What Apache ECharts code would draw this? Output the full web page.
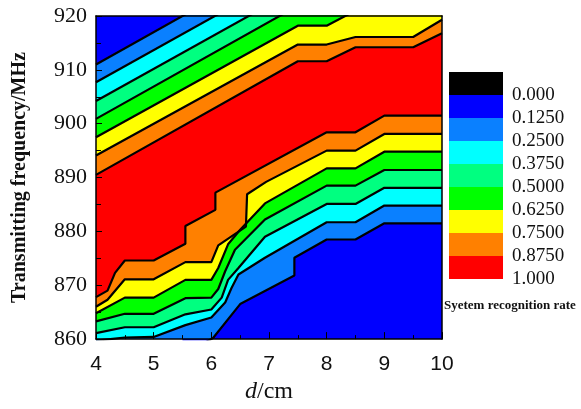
<!DOCTYPE html>
<html>
<head>
<meta charset="utf-8">
<script src="https://cdn.jsdelivr.net/npm/echarts@6/dist/echarts.min.js"></script>
<style>
html, body { margin: 0; padding: 0; background: #fff; }
#main { width: 581px; height: 409px; }
</style>
</head>
<body>
<div id="main"></div>
<script>
// contour boundaries, [d (cm), frequency (MHz)]
// upper family: from the top-left corner down to the red plateau
var u1 = [[4, 911.0], [10, 947.0]];
var u2 = [[4, 907.7], [10, 943.5]];
var u3 = [[4, 904.2], [10, 940.0]];
var u4 = [[4, 900.9], [7.5, 921.9], [8, 921.9], [8.5, 924.0], [10, 924.0]];
var u5 = [[4, 897.5], [7.5, 918.2], [8, 918.2], [8.5, 921.0], [10, 921.0]];
var u6 = [[4, 894.1], [7.5, 914.7], [8, 914.7], [8.5, 916.1], [9.5, 916.1], [10, 919.3]];
var u7 = [[4, 890.5], [7.5, 911.6], [8, 911.6], [8.5, 914.2], [9.5, 914.2], [10, 916.8]];
// lower family: from the red plateau down to the bottom-right corner
var l7 = [[4, 867.8], [4.2, 869.0], [4.33, 872.3], [4.5, 874.6], [5, 874.6], [5.55, 877.7], [5.55, 881.0],
          [6.07, 884.0], [6.07, 887.2], [8, 898.4], [8.5, 898.4], [9, 901.5], [10, 901.5]];
var l6 = [[4, 866.0], [4.2, 867.3], [4.5, 871.1], [5, 871.1], [5.55, 874.3], [6, 874.3], [6.12, 877.4],
          [6.6, 880.9], [6.62, 886.9], [6.95, 889.2], [8, 895.0], [8.5, 895.0], [9, 898.1], [10, 898.1]];
var l5 = [[4, 864.8], [4.5, 867.7], [5, 867.7], [5.55, 871.0], [6, 871.0], [6.12, 873.2], [6.29, 877.6],
          [6.5, 880.3], [6.93, 885.2], [8, 891.7], [8.5, 891.7], [9, 894.8], [10, 894.8]];
var l4 = [[4, 863.3], [4.5, 864.7], [5, 864.7], [5.55, 867.6], [6, 867.7], [6.12, 869.3], [6.24, 872.6],
          [6.41, 876.6], [6.93, 882.2], [8, 888.5], [8.5, 888.5], [9, 891.4], [10, 891.4]];
var l3 = [[4, 861.1], [4.5, 862.2], [5, 862.2], [5.55, 864.6], [6, 865.5], [6.18, 867.7], [6.29, 871.0],
          [6.47, 873.2], [6.93, 879.0], [8, 885.1], [8.5, 885.1], [9, 888.1], [10, 888.1]];
var l2 = [[4, 859.7], [4.5, 860.3], [5, 860.4], [5.55, 862.6], [6, 864.0], [6.24, 866.8], [6.35, 869.5],
          [6.47, 872.0], [6.93, 875.1], [8, 881.7], [8.5, 881.7], [9, 884.8], [10, 884.8]];
var l1 = [[5.5, 857.0], [6.03, 860.2], [6.5, 866.5], [7.44, 871.8], [7.44, 875.1], [8, 878.5],
          [8.5, 878.5], [9, 881.5], [10, 881.5]];

var levelLabels = ['0.000', '0.1250', '0.2500', '0.3750', '0.5000', '0.6250', '0.7500', '0.8750', '1.000'];
var xTicks = [4, 10, 1];
var yTicks = [860, 920, 10];

var colors = ['#000000', '#0000ff', '#0a80ff', '#00ffff', '#00ff80', '#00ff00', '#ffff00', '#ff8000', '#ff0000'];

// each boundary fills downward with the colour of the band beneath it
var layers = [
    [u1, 2], [u2, 3], [u3, 4], [u4, 5], [u5, 6], [u6, 7], [u7, 8],
    [l7, 7], [l6, 6], [l5, 5], [l4, 4], [l3, 3], [l2, 2], [l1, 1]
];

var series = layers.map(function (ly) {
    return {
        type: 'line',
        data: ly[0],
        symbol: 'none',
        clip: true,
        silent: true,
        lineStyle: { color: '#000', width: 2.2 },
        areaStyle: { color: colors[ly[1]], opacity: 1, origin: 'start' }
    };
});

var serif = 'Liberation Serif';

// colour key: one piecewise map for the boxes, a second one, shifted half a box,
// carries the level values so that they sit on the box edges
var keyBoxes = {
    type: 'piecewise', seriesIndex: [], orient: 'vertical', inverse: true, align: 'left',
    left: 449, top: 72, padding: 0,
    itemWidth: 54, itemHeight: 23, itemGap: 0, textGap: 9,
    itemSymbol: 'rect', selectedMode: false, showLabel: false,
    pieces: levelLabels.map(function (t, i) {
        return { min: i, max: i + 1, label: ' ', color: colors[i] };
    })
};
var keyLabels = {
    type: 'piecewise', seriesIndex: [], orient: 'vertical', inverse: true, align: 'left',
    left: 449, top: 83.5, padding: 0,
    itemWidth: 54, itemHeight: 23, itemGap: 0, textGap: 9,
    itemSymbol: 'rect', selectedMode: false,
    pieces: levelLabels.map(function (t, i) {
        return { min: i, max: i + 1, label: t, color: 'rgba(0,0,0,0)' };
    }),
    textStyle: { fontFamily: serif, fontSize: 19, color: '#111' }
};

var option = {
    animation: false,
    backgroundColor: '#fff',
    grid: {
        left: 96, top: 16, right: 139, bottom: 67,
        show: true, backgroundColor: colors[1], borderWidth: 0
    },
    title: {
        text: 'Syetem recognition rate',
        left: 444, top: 299, padding: 0,
        textStyle: { fontFamily: serif, fontWeight: 'bold', fontSize: 13, color: '#111' }
    },
    visualMap: [keyBoxes, keyLabels],
    xAxis: [{
        type: 'value', min: xTicks[0], max: xTicks[1], interval: xTicks[2],
        z: 5,
        name: '{it|d}/cm',
        nameLocation: 'middle', nameGap: 36,
        nameTextStyle: {
            fontFamily: serif, fontSize: 24, color: '#111',
            rich: { it: { fontFamily: serif, fontStyle: 'italic', fontSize: 24, color: '#111' } }
        },
        axisLine: { show: true, lineStyle: { color: '#000', width: 1.5 } },
        axisTick: { inside: true, length: 7, lineStyle: { color: '#000' } },
        minorTick: { show: true, splitNumber: 2, length: 4, lineStyle: { color: '#000' } },
        axisLabel: { fontFamily: 'Liberation Sans', fontSize: 21, color: '#111', margin: 15 },
        splitLine: { show: false }
    }, {
        type: 'value', position: 'top', min: xTicks[0], max: xTicks[1], z: 5,
        axisLine: { show: true, lineStyle: { color: '#000', width: 1.5 } },
        axisTick: { show: false }, axisLabel: { show: false }, splitLine: { show: false }
    }],
    yAxis: [{
        type: 'value', min: yTicks[0], max: yTicks[1], interval: yTicks[2],
        z: 5,
        name: 'Transmitting frequency/MHz',
        nameLocation: 'middle', nameGap: 66, nameRotate: 90,
        nameTextStyle: { fontFamily: serif, fontWeight: 'bold', fontSize: 20, color: '#111' },
        axisLine: { show: true, lineStyle: { color: '#000', width: 1.5 } },
        axisTick: { inside: true, length: 6, lineStyle: { color: '#000' } },
        minorTick: { show: true, splitNumber: 2, length: 5, lineStyle: { color: '#000' } },
        axisLabel: { fontFamily: serif, fontSize: 22, color: '#111', margin: 9 },
        splitLine: { show: false }
    }, {
        type: 'value', position: 'right', min: yTicks[0], max: yTicks[1], z: 5,
        axisLine: { show: true, lineStyle: { color: '#000', width: 1.5 } },
        axisTick: { show: false }, axisLabel: { show: false }, splitLine: { show: false }
    }],
    series: series
};

var myChart = echarts.init(document.getElementById('main'));
myChart.setOption(option);
</script>
</body>
</html>
